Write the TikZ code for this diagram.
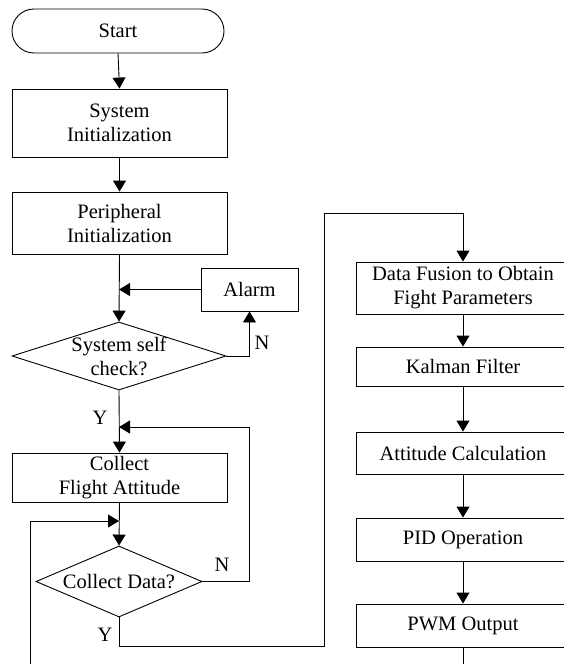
\documentclass[tikz,border=0pt]{standalone}
\usepackage{fontspec}
\setmainfont{Liberation Serif}
\usetikzlibrary{shapes.geometric,shapes.misc,arrows.meta}
\begin{document}
\begin{tikzpicture}[x=1pt,y=-1pt,
  every node/.style={font=\fontsize{20.5}{24}\selectfont},
  proc/.style={draw,line width=0.9pt,inner sep=0pt,align=center,minimum width=215pt},
  term/.style={draw,line width=0.9pt,rounded rectangle,inner sep=0pt,minimum width=212pt,minimum height=44pt},
  dec/.style={draw,line width=0.9pt,diamond,inner sep=0pt},
  lbl/.style={inner sep=0pt},
  line/.style={line width=0.9pt},
  arr/.style={line width=0.9pt,-{Triangle[length=11pt,width=13pt]}}]
\useasboundingbox (0,0) rectangle (563,664);
% left column
\node[term] (start) at (118,31) {Start};
\node[proc,minimum height=68pt] (sys) at (119.5,123) {System\\Initialization};
\node[proc,minimum height=62pt] (per) at (119.5,223) {Peripheral\\Initialization};
\node[proc,minimum width=97pt,minimum height=43pt] (alarm) at (249.5,289.5) {Alarm};
\node[dec,minimum width=214pt,minimum height=68pt,
  label={[align=center,font=\fontsize{20.5}{24}\selectfont]center:System self\\check?}] (chk) at (119,356) {};
\node[proc,minimum height=49pt] (col) at (119.5,477.5) {Collect\\Flight Attitude};
\node[dec,minimum width=166pt,minimum height=71pt,
  label={[font=\fontsize{20.5}{24}\selectfont]center:Collect Data?}] (dat) at (119,581.5) {};
% right column
\node[proc,minimum width=214pt,minimum height=52pt] (fus) at (463,288) {Data Fusion to Obtain\\Fight Parameters};
\node[proc,minimum width=214pt,minimum height=39pt] (kal) at (463,366.5) {Kalman Filter};
\node[proc,minimum width=214pt,minimum height=42pt] (att) at (463,453) {Attitude Calculation};
\node[proc,minimum width=214pt,minimum height=43pt] (pid) at (463,539.5) {PID Operation};
\node[proc,minimum width=214pt,minimum height=43pt] (pwm) at (463,625.5) {PWM Output};
% coordinates
\coordinate (j1) at (119,289.5);
\coordinate (j2) at (119,427);
\coordinate (j3) at (119,521);
\coordinate (nr) at (249,581.5);
\coordinate (c1) at (324,646);
\coordinate (c2) at (324,213);
\coordinate (lb) at (30,670);
\coordinate (pb) at (463,670);
% connectors
\draw[arr] (start.south) -- (sys.north);
\draw[arr] (sys.south) -- (per.north);
\draw[arr] (per.south) -- (chk.north);
\draw[arr] (alarm.west) -- (j1);
\draw[arr] (chk.east) -| (alarm.south);
\draw[arr] (chk.south) -- (col.north);
\draw[arr] (col.south) -- (dat.north);
\draw[arr] (dat.east) -- (nr) |- (j2);
\draw[arr] (dat.south) |- (c1) -- (c2) -| (fus.north);
\draw[arr] (lb) |- (j3);
\draw[arr] (fus.south) -- (kal.north);
\draw[arr] (kal.south) -- (att.north);
\draw[arr] (att.south) -- (pid.north);
\draw[arr] (pid.south) -- (pwm.north);
\draw[line] (pwm.south) -- (pb);
% labels
\node[lbl] (n1) at (262,343) {N};
\node[lbl] (y1) at (100,418) {Y};
\node[lbl] (n2) at (222,565) {N};
\node[lbl] (y2) at (105,635) {Y};
\end{tikzpicture}
\end{document}
